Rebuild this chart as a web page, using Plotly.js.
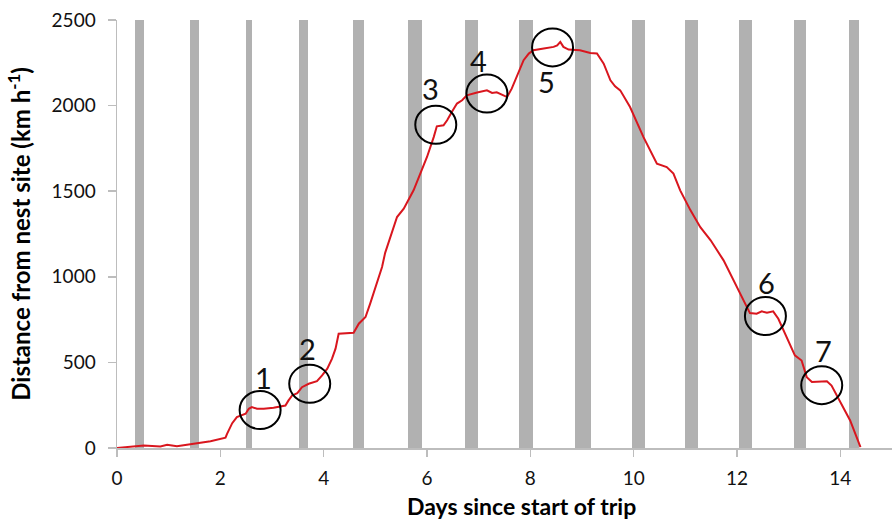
<!DOCTYPE html>
<html>
<head>
<meta charset="utf-8">
<script src="https://cdn.plot.ly/plotly-3.0.1.min.js"></script>
<style>html,body{margin:0;padding:0;background:#fff;}#chart{width:892px;height:519px;}</style>
</head>
<body>
<div id="chart"></div>
<script>
// Night periods (days since start of trip)
const nightStart = [0.344, 1.416, 2.49, 3.52, 4.57, 5.64, 6.73, 7.79, 8.87, 9.96, 11.0, 12.03, 13.10, 14.17];
const nightEnd   = [0.518, 1.596, 2.62, 3.70, 4.78, 5.91, 6.99, 8.06, 9.18, 10.22, 11.25, 12.29, 13.33, 14.36];
const nightTop = 2500;

// Track: distance from nest site
const days = [0, 0.2, 0.52, 0.84, 0.97, 1.16, 1.35, 1.55, 1.81, 2.0, 2.10, 2.13, 2.23, 2.32, 2.49, 2.55, 2.61, 2.71, 2.84, 3.03,
  3.16, 3.26, 3.32, 3.39, 3.49, 3.58, 3.71, 3.87, 3.97, 4.07, 4.16, 4.23, 4.29, 4.58, 4.68, 4.81, 4.90, 5.00, 5.13, 5.19,
  5.29, 5.42, 5.55, 5.64, 5.74, 5.87, 6.00, 6.13, 6.19, 6.32, 6.39, 6.48, 6.58, 6.68, 6.77, 6.97, 7.09, 7.16, 7.26, 7.35,
  7.48, 7.55, 7.64, 7.74, 7.87, 7.97, 8.06, 8.26, 8.45, 8.52, 8.58, 8.64, 8.74, 8.96, 9.16, 9.29, 9.42, 9.55, 9.64, 9.74,
  9.93, 10.19, 10.32, 10.45, 10.64, 10.77, 10.90, 11.10, 11.29, 11.49, 11.74, 11.93, 12.12, 12.25, 12.38, 12.48, 12.58, 12.70, 12.80, 12.96,
  13.12, 13.25, 13.35, 13.45, 13.58, 13.74, 13.83, 13.99, 14.19, 14.39];
const distance = [0, 5, 15, 9, 19, 11, 18, 28, 40, 51, 60, 83, 145, 180, 200, 229, 239, 229, 229, 235,
  243, 248, 278, 307, 320, 355, 375, 390, 424, 463, 521, 580, 667, 673, 726, 765, 843, 940, 1057, 1140,
  1232, 1349, 1398, 1446, 1505, 1603, 1700, 1816, 1879, 1885, 1914, 1963, 2012, 2031, 2060, 2076, 2085, 2089, 2074, 2078,
  2060, 2050, 2099, 2167, 2265, 2304, 2323, 2333, 2343, 2352, 2372, 2343, 2327, 2323, 2307, 2304, 2245, 2148, 2113, 2089,
  1992, 1816, 1739, 1661, 1641, 1603, 1505, 1388, 1290, 1213, 1096, 979, 862, 788, 784, 798, 790, 798, 755, 648,
  541, 511, 414, 385, 389, 390, 365, 278, 161, 5];

// Highlighted stops (circles) and their numbers
const circleDay  = [2.77, 3.73, 6.17, 7.16, 8.43, 12.55, 13.64];
const circleDist = [222, 375, 1888, 2070, 2340, 771, 367];
const labelText  = ['1', '2', '3', '4', '5', '6', '7'];
const labelDay   = [2.84, 3.68, 6.06, 6.99, 8.32, 12.58, 13.67];
const labelDist  = [414, 580, 2099, 2265, 2138, 969, 570];

const xTickVals = [0, 2, 4, 6, 8, 10, 12, 14];
const yTickVals = [0, 500, 1000, 1500, 2000, 2500];

const FONT = 'Lato, "Open Sans", sans-serif';
const AXIS_GREY = '#bdbdbd';

const nightTrace = {
  type: 'bar',
  x: nightStart.map((s, i) => (s + nightEnd[i]) / 2),
  width: nightStart.map((s, i) => nightEnd[i] - s),
  y: nightStart.map(() => nightTop),
  marker: {color: '#b1b1b1', line: {width: 0}},
  hoverinfo: 'skip',
  showlegend: false
};

const trackTrace = {
  type: 'scatter',
  mode: 'lines',
  x: days,
  y: distance,
  line: {color: '#d9161e', width: 2},
  hoverinfo: 'skip',
  showlegend: false
};

const shapes = circleDay.map((d, i) => ({
  type: 'circle',
  xref: 'x', yref: 'y',
  xsizemode: 'pixel', ysizemode: 'pixel',
  xanchor: d, yanchor: circleDist[i],
  x0: -20.5, x1: 20.5, y0: -19, y1: 19,
  line: {color: '#000', width: 2},
  fillcolor: 'rgba(0,0,0,0)'
}));

const annotations = labelText.map((t, i) => ({
  text: t, x: labelDay[i], y: labelDist[i], xref: 'x', yref: 'y',
  showarrow: false, font: {family: FONT, size: 29, color: '#111'}
}));
annotations.push({
  text: '<b>Days since start of trip</b>',
  xref: 'paper', yref: 'paper', x: 0.522, y: 0, yshift: -58,
  xanchor: 'center', yanchor: 'middle', showarrow: false,
  font: {family: FONT, size: 23, color: '#000'}
});

const layout = {
  width: 892, height: 519,
  margin: {l: 117, r: 0, t: 20, b: 71},
  paper_bgcolor: '#fff', plot_bgcolor: '#fff',
  bargap: 0,
  font: {family: FONT, color: '#111'},
  xaxis: {
    range: [0, 15], tickvals: xTickVals, showgrid: false, zeroline: false,
    showline: true, linecolor: AXIS_GREY, linewidth: 1.5,
    ticks: 'outside', ticklen: 7, tickcolor: AXIS_GREY, tickwidth: 1.5,
    tickfont: {family: FONT, size: 19, color: '#111'}, ticklabelstandoff: 6
  },
  yaxis: {
    range: [0, 2500], tickvals: yTickVals, showgrid: false, zeroline: false,
    showline: true, linecolor: AXIS_GREY, linewidth: 1.5,
    ticks: 'outside', ticklen: 8, tickcolor: AXIS_GREY, tickwidth: 1.5,
    tickfont: {family: FONT, size: 19, color: '#111'}, ticklabelstandoff: 8,
    title: {text: '<b>Distance from nest site (km h<sup>-1</sup>)</b>', font: {family: FONT, size: 24, color: '#000'}, standoff: 14}
  },
  shapes: shapes,
  annotations: annotations
};

Plotly.newPlot('chart', [nightTrace, trackTrace], layout, {displayModeBar: false, staticPlot: true});
</script>
</body>
</html>
